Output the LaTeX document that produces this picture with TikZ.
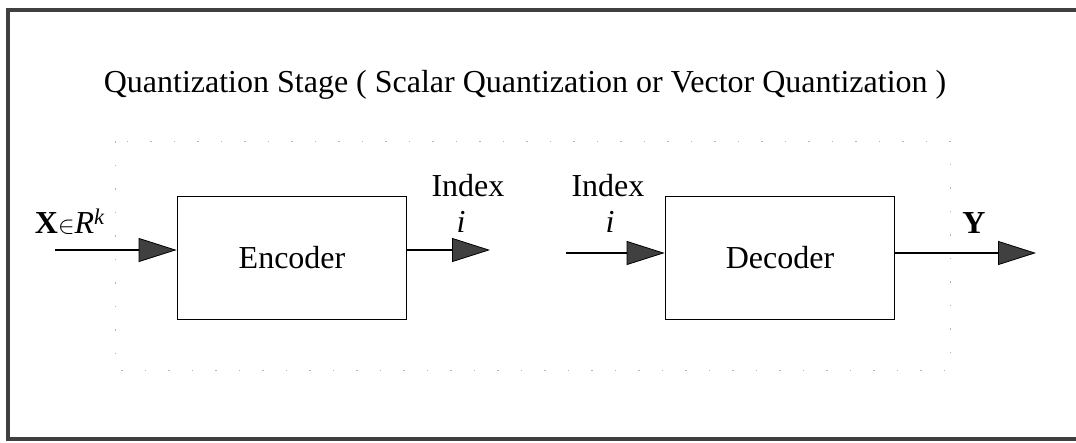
\documentclass[tikz,border=0pt]{standalone}
\usepackage{fontspec}
\setmainfont{Liberation Serif}
\usetikzlibrary{arrows.meta}

\begin{document}
\begin{tikzpicture}[x=1pt, y=-1pt,
    block/.style={draw, line width=1.8pt, minimum width=229pt, minimum height=123pt,
        font=\fontsize{32}{38}\selectfont},
    lbl/.style={font=\fontsize{32}{38}\selectfont, inner sep=0pt},
    flow/.style={line width=1.8pt,
        -{Triangle[length=38pt, width=24pt, fill=black!75, line width=0.8pt]}}
]
                \useasboundingbox (0,0) rectangle (1076,442);

                % outer frame, open on the right
                \draw[line width=4.5pt, black!75] (1080,10) -- (8,10) -- (8,439) -- (1080,439);

                % quantizer boundary
                \draw[black!30, line width=0.8pt, dash pattern=on 1.5pt off 22pt]
                    (115,141) rectangle (950,370);

                \node[lbl] (title) at (525,85) {Quantization Stage ( Scalar Quantization or Vector Quantization )};

                \node[block] (enc) at (292,258) {Encoder};
                \node[block] (dec) at (780,258) {Decoder};

                \coordinate (xin) at (55,250);
                \coordinate (iout) at (490,250);
                \coordinate (iin) at (566,253);
                \coordinate (yout) at (1036,253);

                \draw[flow] (xin) -- (xin -| enc.west);
                \draw[flow] (enc.east |- iout) -- (iout);
                \draw[flow] (iin) -- (iin -| dec.west);
                \draw[flow] (dec.east |- yout) -- (yout);

                \node[lbl] (xlbl) at (70,222) {\textbf{X}$\in$\textit{R}\textsuperscript{\textit{k}}};
                \node[lbl] (idx1) at (468,186) {Index};
                \node[lbl] (i1) at (461,222) {\textit{i}};
                \node[lbl] (idx2) at (608,186) {Index};
                \node[lbl] (i2) at (610,222) {\textit{i}};
                \node[lbl] (ylbl) at (974,223) {\textbf{Y}};
            \end{tikzpicture}
\end{document}
